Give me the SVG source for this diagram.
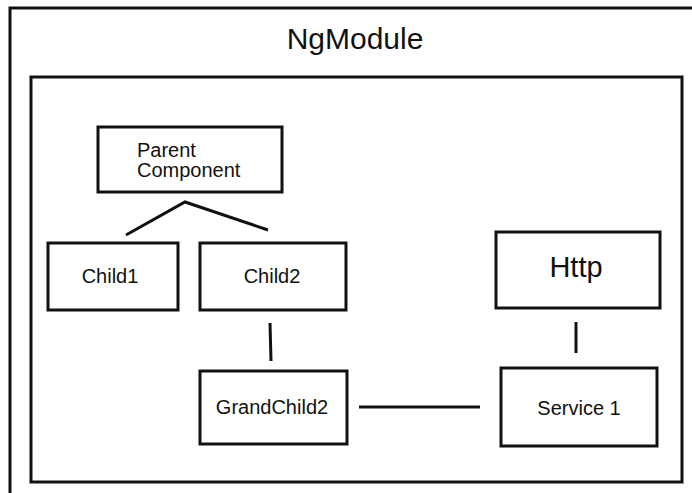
<svg xmlns="http://www.w3.org/2000/svg" width="692" height="493" viewBox="0 0 692 493">
<style>
.box{fill:#fff;stroke:#111;stroke-width:3}
.frame{fill:none;stroke:#111;stroke-width:3}
.t{font-family:"Liberation Sans",Arial,sans-serif;font-size:20px;fill:#111}
.c{text-anchor:middle}
.ln{stroke:#111;stroke-width:3;fill:none}
</style>
<rect width="692" height="493" fill="#fff"/>
<g id="ngmodule">
<rect class="frame" x="10" y="8" width="700" height="500"/>
<text class="t c" x="355" y="49" style="font-size:30px">NgModule</text>
</g>
<g id="inner">
<rect class="frame" x="31" y="77" width="651" height="405"/>
</g>
<g id="connectors">
<polyline class="ln" points="126,235 185,202 268,230"/>
<line class="ln" x1="270" y1="323" x2="271" y2="361"/>
<line class="ln" x1="359" y1="407" x2="480" y2="407"/>
<line class="ln" x1="576" y1="322" x2="576" y2="353"/>
</g>
<g id="parent">
<rect class="box" x="98" y="127" width="184" height="65"/>
<text class="t" x="137" y="157">Parent</text>
<text class="t" x="137" y="177">Component</text>
</g>
<g id="child1">
<rect class="box" x="48" y="243" width="130" height="67"/>
<text class="t c" x="110" y="283">Child1</text>
</g>
<g id="child2">
<rect class="box" x="200" y="243" width="146" height="67"/>
<text class="t c" x="272" y="283">Child2</text>
</g>
<g id="grandchild2">
<rect class="box" x="200" y="371" width="147" height="73"/>
<text class="t c" x="272" y="414">GrandChild2</text>
</g>
<g id="http">
<rect class="box" x="496" y="232" width="164" height="76"/>
<text class="t c" x="576" y="277" style="font-size:29px">Http</text>
</g>
<g id="service1">
<rect class="box" x="501" y="368" width="156" height="78"/>
<text class="t c" x="579" y="415">Service 1</text>
</g>
</svg>
